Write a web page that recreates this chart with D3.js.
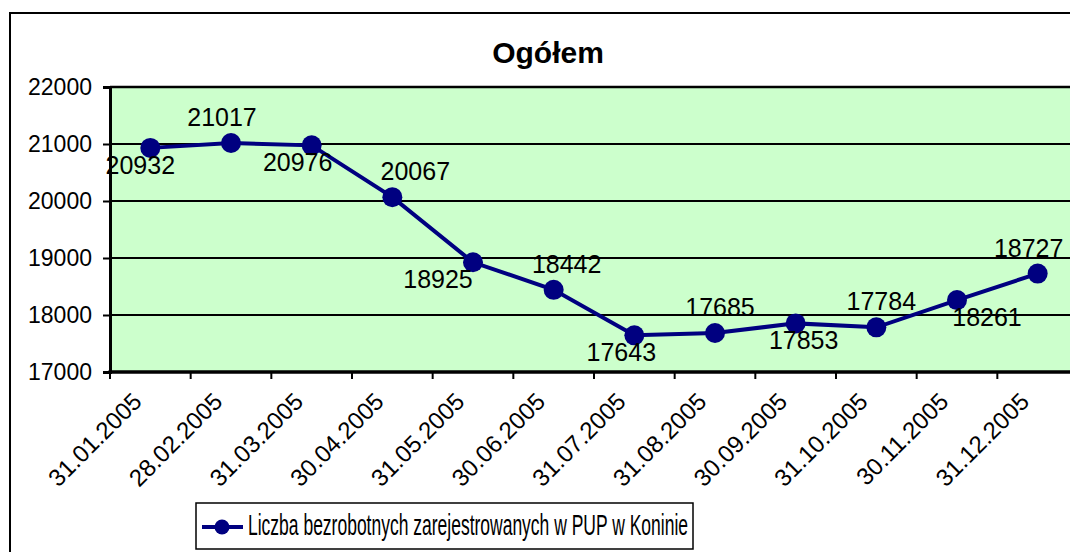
<!DOCTYPE html>
<html>
<head>
<meta charset="utf-8">
<script src="https://cdn.jsdelivr.net/npm/d3@7"></script>
<style>
  body { margin: 0; background: #fff; }
  svg { display: block; font-family: "Liberation Sans", Arial, sans-serif; }
</style>
</head>
<body>
<div id="chart"></div>
<script>
const dates = ['31.01.2005', '28.02.2005', '31.03.2005', '30.04.2005', '31.05.2005', '30.06.2005',
  '31.07.2005', '31.08.2005', '30.09.2005', '31.10.2005', '30.11.2005', '31.12.2005'];
const unemployed = [20932, 21017, 20976, 20067, 18925, 18442, 17643, 17685, 17853, 17784, 18261, 18727];
const yTicks = [17000, 18000, 19000, 20000, 21000, 22000];
const title = 'Ogółem';
const seriesName = 'Liczba bezrobotnych zarejestrowanych w PUP w Koninie';

// small horizontal nudges for the data labels, like Excel placed them
const labelDx = [-10, -9, -14, 23, -35, 13, -13, 5, 8, 5, 30, -9];

const W = 1070, H = 552;
const plot = {left: 110, top: 87, right: 1078, bottom: 372};

const svg = d3.select('#chart').append('svg')
  .attr('width', W)
  .attr('height', H);

// outer chart border
svg.append('rect')
  .attr('x', 10).attr('y', 13)
  .attr('width', 1080).attr('height', 560)
  .attr('fill', 'none')
  .attr('stroke', '#000')
  .attr('stroke-width', 2);

svg.append('text')
  .attr('x', 548).attr('y', 63)
  .attr('text-anchor', 'middle')
  .style('font-size', '30px')
  .style('font-weight', 'bold')
  .text(title);

const x = d3.scaleBand()
  .domain(dates)
  .range([plot.left, plot.right]);

const y = d3.scaleLinear()
  .domain([17000, 22000])
  .range([plot.bottom, plot.top]);

svg.append('rect')
  .attr('x', plot.left).attr('y', plot.top)
  .attr('width', plot.right - plot.left)
  .attr('height', plot.bottom - plot.top)
  .attr('fill', '#ccffcc');

// gridlines
svg.append('g')
  .selectAll('line')
  .data(yTicks.filter(d => d > 17000))
  .enter().append('line')
    .attr('x1', plot.left).attr('x2', plot.right)
    .attr('y1', d => y(d)).attr('y2', d => y(d))
    .attr('stroke', '#000')
    .attr('stroke-width', d => d === 22000 ? 2.5 : 2);

// y axis
const yAxis = svg.append('g')
  .attr('transform', `translate(${plot.left},0)`)
  .call(d3.axisLeft(y).tickValues(yTicks).tickSize(7).tickPadding(11).tickFormat(d3.format('d')));
yAxis.select('.domain').attr('stroke-width', 3);
yAxis.selectAll('.tick line').attr('stroke-width', 2);
yAxis.selectAll('text').style('font-size', '23px').attr('fill', '#000');

// x axis, ticks sit on category boundaries
const bounds = dates.map(d => x(d));
const xAxis = svg.append('g')
  .attr('transform', `translate(0,${plot.bottom})`);
xAxis.append('line')
  .attr('x1', plot.left - 1.5).attr('x2', plot.right)
  .attr('stroke', '#000')
  .attr('stroke-width', 3.5);
xAxis.selectAll('.tk')
  .data(bounds)
  .enter().append('line')
    .attr('class', 'tk')
    .attr('x1', d => d).attr('x2', d => d)
    .attr('y1', 0).attr('y2', 7)
    .attr('stroke', '#000')
    .attr('stroke-width', 2);
xAxis.selectAll('text')
  .data(dates)
  .enter().append('text')
    .attr('transform', d => `translate(${x(d) + x.bandwidth() / 2 - 13},${25}) rotate(-45)`)
    .attr('text-anchor', 'end')
    .attr('dy', '0.35em')
    .style('font-size', '24px')
    .text(d => d);

// series line
const line = d3.line()
  .x((d, i) => x(dates[i]) + x.bandwidth() / 2)
  .y(d => y(d));

svg.append('path')
  .datum(unemployed)
  .attr('d', line)
  .attr('fill', 'none')
  .attr('stroke', '#000080')
  .attr('stroke-width', 4);

svg.selectAll('.dot')
  .data(unemployed)
  .enter().append('circle')
    .attr('class', 'dot')
    .attr('cx', (d, i) => x(dates[i]) + x.bandwidth() / 2)
    .attr('cy', d => y(d))
    .attr('r', 10)
    .attr('fill', '#000080');

svg.selectAll('.lbl')
  .data(unemployed)
  .enter().append('text')
    .attr('class', 'lbl')
    .attr('x', (d, i) => x(dates[i]) + x.bandwidth() / 2 + labelDx[i])
    .attr('y', (d, i) => y(d) + (i % 2 ? -17 : 26))
    .attr('text-anchor', 'middle')
    .style('font-size', '25px')
    .text(d => d);

// legend
const legend = svg.append('g');
legend.append('rect')
  .attr('x', 196).attr('y', 503)
  .attr('width', 497).attr('height', 46)
  .attr('fill', '#fff')
  .attr('stroke', '#000')
  .attr('stroke-width', 1.5);
legend.append('line')
  .attr('x1', 202).attr('x2', 243)
  .attr('y1', 527).attr('y2', 527)
  .attr('stroke', '#000080')
  .attr('stroke-width', 4);
legend.append('circle')
  .attr('cx', 222).attr('cy', 527)
  .attr('r', 7.5)
  .attr('fill', '#000080');
legend.append('text')
  .attr('x', 248).attr('y', 535)
  .attr('textLength', 440)
  .attr('lengthAdjust', 'spacingAndGlyphs')
  .style('font-size', '30px')
  .text(seriesName);
</script>
</body>
</html>
